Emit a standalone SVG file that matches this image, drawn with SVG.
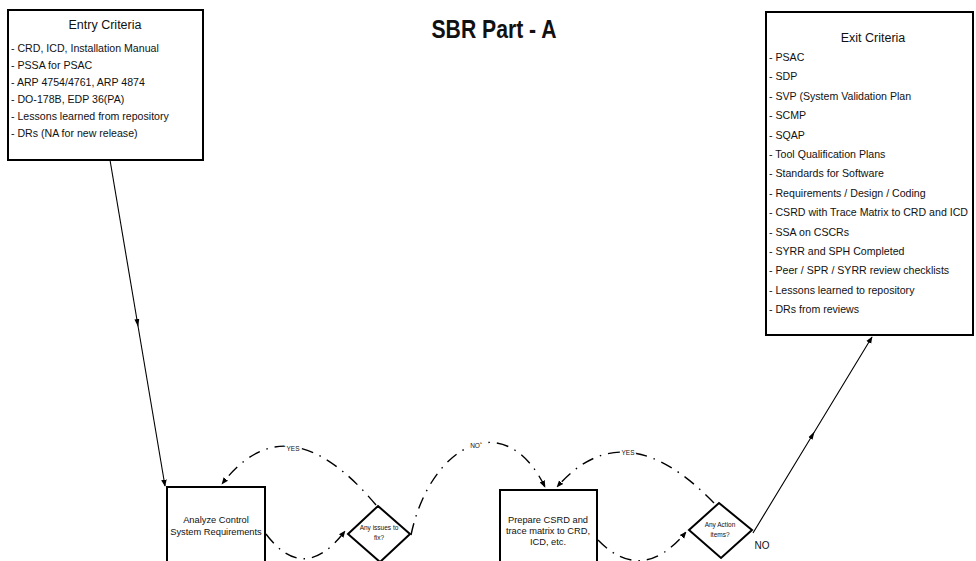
<svg xmlns="http://www.w3.org/2000/svg" width="976" height="561" viewBox="0 0 976 561">
<defs>
<marker id="arr" viewBox="0 0 10 10" refX="9" refY="5" markerWidth="7" markerHeight="7" orient="auto" markerUnits="userSpaceOnUse">
<path d="M0,1 L10,5 L0,9 z" fill="#000"/>
</marker>
<marker id="mid" viewBox="0 0 10 10" refX="5" refY="5" markerWidth="8" markerHeight="8" orient="auto" markerUnits="userSpaceOnUse">
<path d="M0,2 L10,5 L0,8 z" fill="#000"/>
</marker>
</defs>
<style>
text{font-family:"Liberation Sans",Arial,sans-serif;fill:#111}
.box{fill:#fff;stroke:#000;stroke-width:2}
.crit{font-size:10.6px}
.ttl{font-size:12.5px;text-anchor:middle}
.node{font-size:9.3px;text-anchor:middle}
.dia{font-size:6.5px;text-anchor:middle}
.lbl{font-size:6.5px;text-anchor:middle;stroke:#fff;stroke-width:3px;paint-order:stroke}
.solid{fill:none;stroke:#000;stroke-width:1.1}
.dash{fill:none;stroke:#000;stroke-width:1.4;stroke-dasharray:12 7 1.5 7}
</style>
<rect width="976" height="561" fill="#fff"/>
<text x="494" y="38" font-size="25" font-weight="bold" text-anchor="middle" textLength="125" lengthAdjust="spacingAndGlyphs">SBR Part - A</text>

<g id="connectors">
<path class="solid" d="M110,160 L137.5,323 L165,486" marker-mid="url(#mid)" marker-end="url(#arr)"/>
<path class="solid" d="M753,533 L812.5,435 L872,337" marker-mid="url(#mid)" marker-end="url(#arr)"/>
<path class="dash" d="M376,505 Q287,399 222,484" marker-end="url(#arr)"/>
<path class="dash" d="M266,534 Q304,585 345,531" marker-end="url(#arr)"/>
<path class="dash" d="M411,535 C430,445 505,405 545,487" marker-end="url(#arr)"/>
<path class="dash" d="M714,503 Q624,410 557,487" marker-end="url(#arr)"/>
<path class="dash" d="M598,540 Q642,585 686,532" marker-end="url(#arr)"/>
<text class="lbl" x="293" y="451">YES</text>
<text class="lbl" x="475" y="448">NO</text>
<text class="lbl" x="628" y="455">YES</text>
<text x="762" y="549" font-size="10" text-anchor="middle">NO</text>
</g>

<g id="entry-criteria">
<rect class="box" x="8" y="10" width="195" height="150"/>
<text class="ttl" x="105" y="29">Entry Criteria</text>
<text class="crit" x="11" y="52">- CRD, ICD, Installation Manual</text>
<text class="crit" x="11" y="69">- PSSA for PSAC</text>
<text class="crit" x="11" y="86">- ARP 4754/4761, ARP 4874</text>
<text class="crit" x="11" y="103">- DO-178B, EDP 36(PA)</text>
<text class="crit" x="11" y="120">- Lessons learned from repository</text>
<text class="crit" x="11" y="137">- DRs (NA for new release)</text>
</g>

<g id="exit-criteria">
<rect class="box" x="766" y="12" width="207" height="323"/>
<text class="ttl" x="873" y="42">Exit Criteria</text>
<text class="crit" x="769" y="61">- PSAC</text>
<text class="crit" x="769" y="80.4">- SDP</text>
<text class="crit" x="769" y="99.8">- SVP (System Validation Plan</text>
<text class="crit" x="769" y="119.2">- SCMP</text>
<text class="crit" x="769" y="138.6">- SQAP</text>
<text class="crit" x="769" y="158">- Tool Qualification Plans</text>
<text class="crit" x="769" y="177.4">- Standards for Software</text>
<text class="crit" x="769" y="196.8">- Requirements / Design / Coding</text>
<text class="crit" x="769" y="216.2">- CSRD with Trace Matrix to CRD and ICD</text>
<text class="crit" x="769" y="235.6">- SSA on CSCRs</text>
<text class="crit" x="769" y="255">- SYRR and SPH Completed</text>
<text class="crit" x="769" y="274.4">- Peer / SPR / SYRR review checklists</text>
<text class="crit" x="769" y="293.8">- Lessons learned to repository</text>
<text class="crit" x="769" y="313.2">- DRs from reviews</text>
</g>

<g id="analyze">
<rect class="box" x="167" y="487" width="98" height="80"/>
<text class="node" x="216" y="523">Analyze Control</text>
<text class="node" x="216" y="535">System Requirements</text>
</g>

<g id="issues-decision">
<polygon class="box" points="378,506 410,534 380,562 348,534"/>
<text class="dia" x="379" y="530">Any issues to</text>
<text class="dia" x="379" y="540">fix?</text>
</g>

<g id="prepare">
<rect class="box" x="500" y="490" width="97" height="80"/>
<text class="node" x="548" y="523">Prepare CSRD and</text>
<text class="node" x="548" y="534">trace matrix to CRD,</text>
<text class="node" x="548" y="545">ICD, etc.</text>
</g>

<g id="action-decision">
<polygon class="box" points="719,503 752,530 721,558 689,530"/>
<text class="dia" x="720" y="527">Any Action</text>
<text class="dia" x="720" y="537">items?</text>
</g>
</svg>
